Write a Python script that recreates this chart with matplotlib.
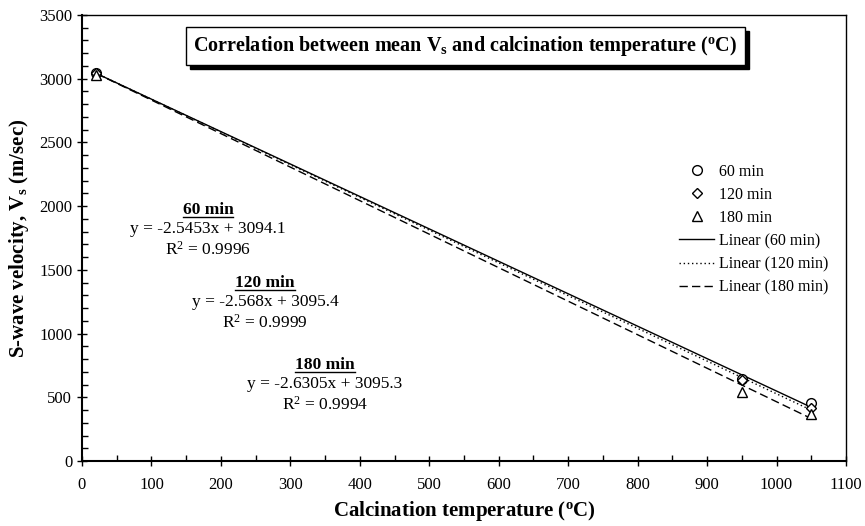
import matplotlib
matplotlib.use("Agg")
import matplotlib.pyplot as plt
from matplotlib.lines import Line2D
from matplotlib.patches import Rectangle
import numpy as np

plt.rcParams['font.family'] = ['Liberation Serif', 'DejaVu Serif']
plt.rcParams['mathtext.fontset'] = 'custom'
plt.rcParams['mathtext.rm'] = 'Liberation Serif'
plt.rcParams['mathtext.it'] = 'Liberation Serif:italic'
plt.rcParams['mathtext.bf'] = 'Liberation Serif:bold'

temps = [20, 950, 1050]
vs_60 = [3043, 640, 455]
vs_120 = [3045, 635, 415]
vs_180 = [3030, 545, 372]
series_labels = ['60 min', '120 min', '180 min']
slopes = [-2.5453, -2.568, -2.6305]
intercepts = [3094.1, 3095.4, 3095.3]
r2 = ['0.9996', '0.9999', '0.9994']
xticks = list(range(0, 1101, 100))
yticks = list(range(0, 3501, 500))

W, H = 865, 526
fig = plt.figure(figsize=(W / 100, H / 100), dpi=100)
ax = fig.add_axes([82 / W, 65 / H, (846 - 82) / W, (461 - 15) / H])

markers = ['o', 'D', '^']
msizes = [7, 5.5, 7]
for vals, m, ms, lab in zip([vs_60, vs_120, vs_180], markers, msizes, series_labels):
    ax.plot(temps, vals, linestyle='none', marker=m, markersize=ms,
            markerfacecolor='white', markeredgecolor='black', markeredgewidth=1.0,
            label=lab, zorder=3)

xl = np.array([temps[0], temps[-1]])
styles = ['-', (0, (1, 2)), (0, (6, 3))]
for s, b, ls, lab in zip(slopes, intercepts, styles, series_labels):
    ax.plot(xl, s * xl + b, color='black', linestyle=ls, linewidth=1.0,
            label='Linear (%s)' % lab, zorder=2)

ax.set_xlim(0, 1100)
ax.set_ylim(0, 3500)
ax.set_xticks(xticks)
ax.set_yticks(yticks)
ax.set_xticks(list(range(0, 1101, 50)), minor=True)
ax.set_yticks(list(range(0, 3501, 100)), minor=True)
ax.tick_params(axis='both', which='major', direction='inout', length=7, width=1, labelsize=12)
ax.tick_params(axis='both', which='minor', direction='in', length=4, width=1)
ax.tick_params(axis='x', pad=8)
for sp in ax.spines.values():
    sp.set_linewidth(1.0)
ax.spines['left'].set_linewidth(1.5)
ax.spines['bottom'].set_linewidth(1.5)

ax.set_xlabel('Calcination temperature ($^\\mathbf{o}$C)', fontsize=15, fontweight='bold', labelpad=4)
ax.set_ylabel('S-wave velocity, V$_\\mathbf{s}$ (m/sec)', fontsize=15, fontweight='bold', labelpad=6)

# title box with shadow
tx0, ty0, tw, th = 186 / W, 1 - 65 / H, (745 - 186) / W, (65 - 27) / H
fig.patches.append(Rectangle((tx0 + 4 / W, ty0 - 4 / H), tw, th, transform=fig.transFigure,
                             facecolor='black', edgecolor='black', zorder=5))
fig.patches.append(Rectangle((tx0, ty0), tw, th, transform=fig.transFigure,
                             facecolor='white', edgecolor='black', linewidth=1.0, zorder=6))
fig.text(tx0 + tw / 2, ty0 + th / 2,
         'Correlation between mean V$_\\mathbf{s}$ and calcination temperature ($^\\mathbf{o}$C)',
         ha='center', va='center', fontsize=14.5, fontweight='bold', zorder=7)

# equations
centers = [(208, 210), (265, 283), (325, 365)]
heads = []
for (cx, cy), lab, s, b, r in zip(centers, series_labels, slopes, intercepts, r2):
    h = fig.text(cx / W, 1 - cy / H, lab, ha='center', va='center',
                 fontsize=12.5, fontweight='bold')
    heads.append(h)
    fig.text(cx / W, 1 - (cy + 19.5) / H, 'y = %gx + %g' % (s, b), ha='center', va='center',
             fontsize=12.5)
    fig.text(cx / W, 1 - (cy + 40) / H, 'R$^2$ = %s' % r, ha='center', va='center',
             fontsize=12.5)

fig.canvas.draw()
renderer = fig.canvas.get_renderer()
for h in heads:
    bb = h.get_window_extent(renderer)
    yline = (bb.y0 + 1.5) / fig.bbox.height
    fig.lines.append(Line2D([bb.x0 / fig.bbox.width, bb.x1 / fig.bbox.width], [yline, yline],
                            transform=fig.transFigure, color='black', linewidth=1.0))

leg = ax.legend(loc='upper left', bbox_to_anchor=(679 / W, 1 - 164 / H),
                bbox_transform=fig.transFigure, frameon=False, fontsize=11.5,
                borderpad=0, borderaxespad=0, handlelength=2.2, handletextpad=0.3,
                labelspacing=0.44)

fig.savefig('out.png', dpi=100)
